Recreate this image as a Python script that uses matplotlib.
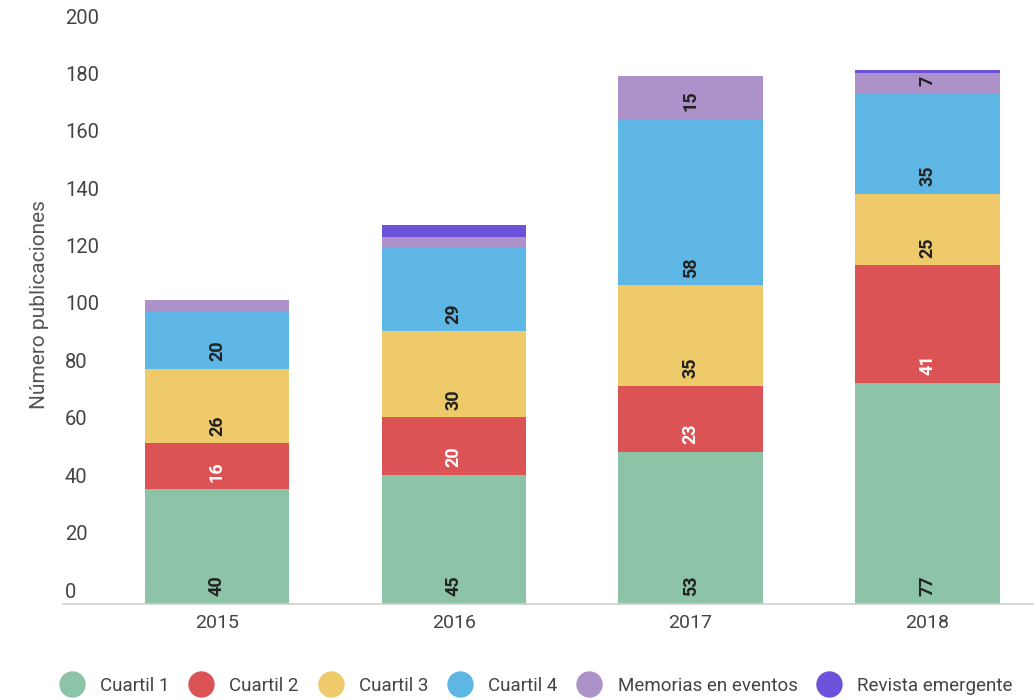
import numpy as np
import matplotlib
matplotlib.use("Agg")
import matplotlib.pyplot as plt
from matplotlib.lines import Line2D
from matplotlib.transforms import offset_copy

plt.rcParams['font.family'] = ['Roboto', 'DejaVu Sans']

years = ['2015', '2016', '2017', '2018']
series = ['Cuartil 1', 'Cuartil 2', 'Cuartil 3', 'Cuartil 4',
          'Memorias en eventos', 'Revista emergente']
cuartil_1 = [40, 45, 53, 77]
cuartil_2 = [16, 20, 23, 41]
cuartil_3 = [26, 30, 35, 25]
cuartil_4 = [20, 29, 58, 35]
memorias = [4, 4, 15, 7]
revista = [0, 4, 0, 1]
y_ticks = [0, 20, 40, 60, 80, 100, 120, 140, 160, 180, 200]

colors = ['#8dc3a7', '#db5355', '#efca6b', '#5eb6e4', '#ac92c9', '#6c52da']
label_colors = ['#222222', '#ffffff', '#222222', '#222222', '#222222', '#222222']
show_labels = [True, True, True, True, True, False]

data = [cuartil_1, cuartil_2, cuartil_3, cuartil_4, memorias, revista]

fig = plt.figure(figsize=(10.34, 7.0), dpi=100)
ax = fig.add_axes([63 / 1034, 96 / 700, 971 / 1034, 574 / 700])

x = np.arange(len(years))
bottom = np.zeros(len(years))
for vals, col, lcol, show in zip(data, colors, label_colors, show_labels):
    vals = np.array(vals, dtype=float)
    ax.bar(x, vals, width=0.61, bottom=bottom, color=col, edgecolor='none')
    if show:
        for xi, b, v in zip(x, bottom, vals):
            if v >= 5:
                # label sits a bit above the segment bottom
                tr = offset_copy(ax.transData, fig=fig, x=0, y=18 if v > 8 else 12, units='dots')
                ax.text(xi, b, f"{int(v)}", transform=tr, rotation=90,
                        ha='center', va='center', fontsize=13, color=lcol,
                        fontweight='bold')
    bottom += vals

ax.set_xlim(-0.65, 3.45)
ax.set_ylim(0, 200)
for s in ['top', 'right', 'left']:
    ax.spines[s].set_visible(False)
ax.spines['bottom'].set_color('#d0d0d0')
ax.spines['bottom'].set_linewidth(1.2)

ax.set_yticks([])
ytr = offset_copy(ax.get_yaxis_transform(), fig=fig, x=0, y=12, units='dots')
for t in y_ticks:
    ax.text(0.002, t, str(t), transform=ytr, ha='left', va='center',
            fontsize=14.5, color='#444444', clip_on=False)

ax.set_xticks(x)
ax.set_xticklabels(years, fontsize=14, color='#444444')
ax.tick_params(axis='x', length=0, pad=7)

fig.text(40 / 1034, 1 - 305 / 700, 'Número publicaciones', rotation=90,
         ha='center', va='center', fontsize=15, color='#555555')

handles = [Line2D([], [], marker='o', linestyle='none', markersize=18,
                  markerfacecolor=c, markeredgecolor=c) for c in colors]
fig.legend(handles, series, loc='center', bbox_to_anchor=(533 / 1034, 1 - 686 / 700),
           ncol=6, frameon=False, fontsize=13.5, handletextpad=0.5,
           columnspacing=0.7, labelcolor='#444444')

fig.savefig('out.png', dpi=100)
